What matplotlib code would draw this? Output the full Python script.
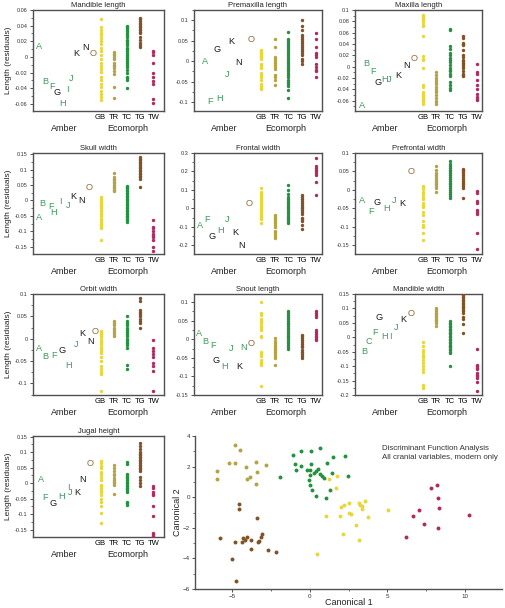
import matplotlib
matplotlib.use('Agg')
from matplotlib import pyplot as plt
from matplotlib.ticker import MultipleLocator, AutoMinorLocator, FormatStrFormatter
import numpy as np

plt.rcParams['font.family'] = ['Liberation Sans', 'DejaVu Sans']

eco_names = ['GB', 'TR', 'TC', 'TG', 'TW']
eco_colors = ['#e8d73a', '#b3a345', '#23913f', '#7f5327', '#b02a5e']

# amber fossils: (letter, position along x, residual)
mandl_amber = [('A', -3.67, 0.014), ('B', -3.22, -0.031), ('F', -2.67, -0.038), ('G', -2.27, -0.045),
               ('H', -1.87, -0.059), ('I', -1.49, -0.042), ('J', -1.24, -0.027), ('K', -0.82, 0.005),
               ('N', -0.17, 0.012), ('O', 0.46, 0.004)]
mandl_gb = [0.048, 0.038, 0.035, 0.031, 0.028, 0.024, 0.02, 0.016, 0.012, 0.008, 0.003, -0.003, -0.008,
            -0.011, -0.015, -0.019, -0.026, -0.03, -0.034, -0.038, -0.043, -0.047, -0.051, -0.055]
mandl_tr = [0.006, 0.004, 0.002, 0, -0.002, -0.008, -0.01, -0.012, -0.014, -0.018, -0.022, -0.038, -0.053]
mandl_tc = [0.04, 0.038, 0.036, 0.033, 0.03, 0.028, 0.025, 0.022, 0.02, 0.018, 0.015, 0.012, 0.01, 0.008,
            0.005, 0.002, 0, -0.002, -0.005, -0.008, -0.01, -0.013, -0.016, -0.02, -0.025, -0.027, -0.03, -0.039]
mandl_tg = [0.05, 0.048, 0.046, 0.044, 0.042, 0.04, 0.038, 0.036, 0.034, 0.032, 0.03, 0.025, 0.022, 0.018,
            0.015, 0.013]
mandl_tw = [0.008, 0.006, 0.003, -0.008, -0.02, -0.026, -0.031, -0.035, -0.054, -0.059]

premx_amber = [('A', -3.10, -0.001), ('F', -2.73, -0.098), ('G', -2.20, 0.028), ('H', -2.0, -0.091),
               ('J', -1.46, -0.033), ('K', -1.15, 0.047), ('N', -0.61, -0.003), ('O', 0.27, 0.052)]
premx_gb = [0.026, 0.023, 0.02, 0.017, 0.013, 0.01, 0.005, -0.007, -0.012, -0.018, -0.028, -0.033, -0.038,
            -0.045, -0.055, -0.06, -0.065, -0.067]
premx_tr = [0.053, 0.035, 0.01, 0.005, 0, -0.005, -0.01, -0.015, -0.02, -0.035, -0.04, -0.045, -0.058]
premx_tc = [0.072, 0.055, 0.05, 0.045, 0.04, 0.035, 0.03, 0.025, 0.02, 0.015, 0.01, 0.005, 0, -0.005, -0.01,
            -0.015, -0.02, -0.025, -0.03, -0.035, -0.04, -0.045, -0.05, -0.055, -0.06, -0.07, -0.09]
premx_tg = [0.1, 0.085, 0.075, 0.065, 0.06, 0.055, 0.05, 0.045, 0.04, 0.035, 0.03, 0.025, 0.02, 0.015,
            0.005, 0, -0.008]
premx_tw = [0.068, 0.055, 0.035, 0.02, 0.015, 0.01, -0.008, -0.015, -0.022, -0.025, -0.04]

maxl_amber = [('A', -3.47, -0.069), ('B', -3.19, 0.0065), ('F', -2.70, -0.008), ('G', -2.33, -0.027),
              ('H', -1.85, -0.022), ('J', -1.50, -0.022), ('K', -0.80, -0.015), ('N', -0.23, 0.002),
              ('O', 0.34, 0.014)]
maxl_gb = [0.092, 0.09, 0.088, 0.085, 0.082, 0.078, 0.074, 0.072, 0.054, 0.019, 0.013, 0.012, -0.003, -0.032,
           -0.035, -0.045, -0.048, -0.05, -0.053, -0.056, -0.058, -0.06, -0.063, -0.066]
maxl_tr = [-0.01, -0.015, -0.02, -0.024, -0.027, -0.03, -0.035, -0.04, -0.042, -0.045, -0.05, -0.055, -0.06,
           -0.063, -0.065]
maxl_tc = [0.067, 0.065, 0.037, 0.032, 0.025, 0.02, 0.015, 0.012, 0.008, 0.003, -0.002, -0.005, -0.008,
           -0.012, -0.017, -0.027, -0.032, -0.038, -0.041]
maxl_tg = [0.054, 0.05, 0.042, 0.04, 0.038, 0.03, 0.02, 0.017, 0.012, 0.01, 0.007, 0.004, 0.002, -0.002,
           -0.008, -0.012, -0.015, -0.017]
maxl_tw = [0.005, -0.01, -0.013, -0.023, -0.033, -0.04, -0.048, -0.053, -0.056, -0.058]

skullw_amber = [('A', -3.67, -0.055), ('B', -3.40, -0.009), ('F', -2.76, -0.02), ('H', -2.54, -0.039),
                ('I', -2.04, -0.005), ('J', -1.47, -0.017), ('K', -1.04, 0.013), ('N', -0.42, 0.0),
                ('O', 0.13, 0.041)]
skullw_gb = [0.01, 0.005, 0, -0.005, -0.01, -0.015, -0.02, -0.025, -0.03, -0.035, -0.04, -0.045, -0.05, -0.06,
             -0.065, -0.07, -0.075, -0.08, -0.085, -0.09, -0.13]
skullw_tr = [0.09, 0.075, 0.07, 0.065, 0.06, 0.055, 0.05, 0.045, 0.04, 0.035, 0.03]
skullw_tc = [0.048, 0.045, 0.04, 0.035, 0.03, 0.025, 0.02, 0.015, 0.01, 0.005, 0, -0.005, -0.01, -0.015,
             -0.02, -0.025, -0.03, -0.035, -0.04, -0.045, -0.05, -0.055, -0.06, -0.065, -0.07]
skullw_tg = [0.14, 0.135, 0.13, 0.125, 0.12, 0.115, 0.11, 0.105, 0.1, 0.095, 0.09, 0.085, 0.08, 0.075, 0.07,
             0.042]
skullw_tw = [-0.065, -0.085, -0.09, -0.1, -0.11, -0.115, -0.12, -0.13, -0.15, -0.165]

frontw_amber = [('A', -3.44, -0.091), ('F', -2.95, -0.06), ('G', -2.56, -0.151), ('H', -1.98, -0.118),
                ('J', -1.44, -0.06), ('K', -0.90, -0.133), ('N', -0.41, -0.202), ('O', 0.12, 0.025)]
frontw_gb = [0.11, 0.09, 0.08, 0.07, 0.06, 0.05, 0.04, 0.03, 0.02, 0.01, 0, -0.01, -0.02, -0.03, -0.04,
             -0.05, -0.06, -0.08]
frontw_tr = [-0.035, -0.04, -0.05, -0.06, -0.07, -0.08, -0.09, -0.1, -0.12, -0.13, -0.14, -0.15, -0.16]
frontw_tc = [0.125, 0.1, 0.08, 0.06, 0.05, 0.04, 0.03, 0.02, 0.01, 0, -0.01, -0.02, -0.03, -0.04, -0.05,
             -0.06, -0.07, -0.08]
frontw_tg = [0.07, 0.06, 0.05, 0.04, 0.03, 0.02, 0.01, 0, -0.01, -0.02, -0.03, -0.05, -0.06, -0.07, -0.09,
             -0.11]
frontw_tw = [0.275, 0.23, 0.22, 0.21, 0.2, 0.19, 0.18, 0.145, 0.075]

prefw_amber = [('A', -3.52, -0.029), ('F', -2.85, -0.058), ('G', -2.40, -0.033), ('H', -1.71, -0.05),
               ('J', -1.12, -0.028), ('K', -0.48, -0.037), ('O', 0.14, 0.05)]
prefw_gb = [0.012, 0.008, 0.002, -0.005, -0.01, -0.018, -0.025, -0.035, -0.04, -0.045, -0.06, -0.068, -0.085,
            -0.095, -0.1, -0.115, -0.135]
prefw_tr = [0.065, 0.055, 0.045, 0.04, 0.035, 0.03, 0.025, 0.02, 0.015, 0.01, 0.005, -0.005]
prefw_tc = [0.078, 0.07, 0.065, 0.06, 0.055, 0.05, 0.045, 0.04, 0.035, 0.03, 0.025, 0.02, 0.015, 0.01, 0.005,
            0, -0.005, -0.01, -0.015, -0.022]
prefw_tg = [0.058, 0.055, 0.05, 0.045, 0.04, 0.035, 0.03, 0.025, 0.02, 0.015, 0.01, 0.005, -0.022]
prefw_tw = [-0.002, -0.008, -0.03, -0.035, -0.055, -0.06, -0.065, -0.115, -0.16]

orbw_amber = [('A', -3.67, -0.023), ('B', -3.19, -0.039), ('F', -2.54, -0.037), ('G', -1.94, -0.026),
              ('H', -1.44, -0.06), ('J', -0.87, -0.013), ('K', -0.37, 0.012), ('N', 0.21, -0.007),
              ('O', 0.58, 0.016)]
orbw_gb = [0.018, 0.012, 0.008, 0.003, -0.003, -0.008, -0.012, -0.018, -0.022, -0.028, -0.033, -0.04, -0.05,
           -0.06, -0.068, -0.075, -0.08, -0.118]
orbw_tr = [0.04, 0.035, 0.03, 0.025, 0.02, 0.015, 0.01, 0.007]
orbw_tc = [0.05, 0.04, 0.035, 0.03, 0.025, 0.02, 0.015, 0.01, 0.005, 0, -0.005, -0.01, -0.015, -0.02,
           -0.058, -0.068]
orbw_tg = [0.09, 0.085, 0.065, 0.06, 0.055, 0.05, 0.045, 0.04, 0.035, 0.025]
orbw_tw = [-0.003, -0.02, -0.028, -0.035, -0.04, -0.055, -0.06, -0.072, -0.116]

snout_amber = [('A', -3.54, 0.016), ('B', -3.08, -0.006), ('F', -2.49, -0.018), ('G', -2.25, -0.058),
               ('H', -1.64, -0.074), ('J', -1.20, -0.025), ('K', -0.61, -0.072), ('N', -0.27, -0.021),
               ('O', 0.27, -0.011)]
snout_gb = [0.1, 0.072, 0.065, 0.055, 0.05, 0.045, 0.035, 0.03, 0.025, 0.01, 0.005, -0.035, -0.04, -0.045,
            -0.055, -0.06, -0.065, -0.07, -0.125]
snout_tr = [0.003, -0.005, -0.01, -0.015, -0.02, -0.025, -0.03, -0.035, -0.04, -0.045, -0.05, -0.07]
snout_tc = [0.075, 0.07, 0.065, 0.06, 0.055, 0.05, 0.045, 0.04, 0.035, 0.03, 0.025, 0.02, 0.015, 0.01,
            0.005, 0, -0.005, -0.01, -0.015, -0.02, -0.025]
snout_tg = [0.012, 0.008, 0.003, -0.002, -0.008, -0.012, -0.018, -0.022, -0.028, -0.035, -0.04, -0.045, -0.05]
snout_tw = [0.075, 0.07, 0.065, 0.06, 0.025, 0.02, 0.015, 0.01, 0.005, 0, -0.003]

mandw_amber = [('B', -3.34, -0.05), ('C', -3.00, -0.015), ('F', -2.53, 0.016), ('G', -2.23, 0.069),
               ('H', -1.79, 0.002), ('I', -1.37, 0.002), ('J', -0.99, 0.035), ('K', -0.43, 0.06),
               ('O', 0.14, 0.083)]
mandw_gb = [-0.018, -0.03, -0.045, -0.05, -0.06, -0.065, -0.07, -0.08, -0.09, -0.1, -0.11, -0.12, -0.165,
            -0.17, -0.175]
mandw_tr = [0.1, 0.095, 0.09, 0.085, 0.08, 0.075, 0.07, 0.065, 0.06, 0.055, 0.05, 0.04]
mandw_tc = [0.058, 0.05, 0.045, 0.04, 0.035, 0.03, 0.025, 0.02, 0.015, 0.01, 0.005, 0, -0.005, -0.01, -0.015,
            -0.02, -0.025, -0.03, -0.035, -0.04, -0.045, -0.05, -0.055, -0.1]
mandw_tg = [0.148, 0.14, 0.135, 0.13, 0.125, 0.12, 0.115, 0.11, 0.105, 0.1, 0.095, 0.09, 0.085, 0.07, 0.065,
            0.045, 0.015]
mandw_tw = [-0.04, -0.095, -0.1, -0.105, -0.11, -0.125, -0.13, -0.135, -0.14, -0.155, -0.185]

jugal_amber = [('A', -3.54, 0.012), ('F', -3.19, -0.048), ('G', -2.62, -0.066), ('H', -1.99, -0.044),
               ('I', -1.47, -0.015), ('J', -1.27, -0.031), ('K', -0.79, -0.03), ('N', -0.34, 0.012),
               ('O', 0.18, 0.063)]
jugal_gb = [0.07, 0.065, 0.055, 0.048, 0.035, 0.03, 0.02, 0.01, -0.005, -0.01, -0.015, -0.02, -0.025, -0.03,
            -0.04, -0.05, -0.06, -0.075, -0.095, -0.13]
jugal_tr = [0.058, 0.05, 0.04, 0.03, 0.025, 0.015, 0.01, 0.005, 0, -0.005, -0.035]
jugal_tc = [0.067, 0.062, 0.028, 0.025, 0.02, 0.015, 0.01, 0.005, 0, -0.005, -0.01, -0.015, -0.02, -0.025,
            -0.03, -0.06, -0.065, -0.07]
jugal_tg = [0.13, 0.12, 0.11, 0.1, 0.095, 0.09, 0.085, 0.08, 0.075, 0.07, 0.065, 0.06, 0.055, 0.05, 0.045,
            0.04, 0.02, 0.01, 0, -0.01]
jugal_tw = [-0.01, -0.015, -0.03, -0.035, -0.04, -0.075, -0.107, -0.16, -0.165, -0.17]

# discriminant function analysis, canonical scores
dfa_tr_x = [-4.84, -4.52, -5.21, -4.84, -6.0, -5.96, -4.11, -3.49, -2.82, -3.42, -3.83, -4.02, -3.44]
dfa_tr_y = [3.39, 3.07, 2.26, 2.26, 1.74, 1.17, 1.96, 2.3, 2.09, 1.67, 1.35, 1.2, 0.85]
dfa_tg_x = [-4.56, -4.56, -3.4, -5.77, -4.8, -4.35, -4.3, -4.18, -4.02, -3.81, -3.81, -3.34, -3.27, -3.16,
            -3.06, -2.67, -2.15, -5.04, -4.74]
dfa_tg_y = [-0.46, -0.78, -1.33, -2.65, -2.91, -2.96, -2.67, -2.83, -2.61, -2.78, -3.41, -2.96, -2.89, -2.61,
            -2.41, -3.43, -3.59, -4.04, -5.48]
dfa_tc_x = [-1.08, -0.58, 0.11, 0.65, -0.93, -0.54, -0.9, -0.15, 0.04, 0.11, 0.26, 0.0, 0.43, 0.56, 0.69,
            0.77, 0.9, 1.14, 1.51, 1.44, 2.26, 2.45, -1.89, -0.06, 0.0, 0.15, 0.43, 1.03, 1.29]
dfa_tc_y = [2.74, 3.04, 3.04, 3.22, 2.2, 2.04, 1.78, 1.78, 1.78, 2.15, 1.57, 1.46, 1.74, 1.87, 1.52, 1.39,
            1.26, 2.26, 2.61, 1.57, 2.7, 1.37, 1.3, 1.13, 0.83, 0.48, 0.09, -0.07, 0.48]
dfa_gb_x = [1.25, 1.76, 1.72, 2.02, 2.22, 2.52, 2.52, 2.63, 3.16, 3.27, 3.36, 3.34, 3.57, 3.75, 3.01, 2.15,
            3.19, 1.03, 1.98, 5.06, 0.45]
dfa_gb_y = [1.17, 1.39, 0.57, -0.65, -0.48, -0.41, -1.04, -1.09, -0.35, -0.48, -0.57, -0.78, -0.22, -1.3,
            -1.8, -2.41, -2.78, -1.26, -1.24, -0.83, -3.7]
dfa_tw_x = [8.24, 7.81, 8.29, 8.31, 7.06, 6.63, 7.38, 8.27, 6.18, 10.27]
dfa_tw_y = [0.8, 0.63, -0.02, -0.72, -0.83, -1.22, -1.74, -2.04, -2.57, -1.15]

panels = [
    ('Mandible length', mandl_amber, [mandl_gb, mandl_tr, mandl_tc, mandl_tg, mandl_tw], 0.02, (-0.069, 0.06), 'GKN'),
    ('Premaxilla length', premx_amber, [premx_gb, premx_tr, premx_tc, premx_tg, premx_tw], 0.05, (-0.122, 0.125), 'GKN'),
    ('Maxilla length', maxl_amber, [maxl_gb, maxl_tr, maxl_tc, maxl_tg, maxl_tw], 0.02, (-0.078, 0.1), 'GKN'),
    ('Skull width', skullw_amber, [skullw_gb, skullw_tr, skullw_tc, skullw_tg, skullw_tw], 0.05, (-0.174, 0.154), 'GKN'),
    ('Frontal width', frontw_amber, [frontw_gb, frontw_tr, frontw_tc, frontw_tg, frontw_tw], 0.1, (-0.247, 0.3), 'GKN'),
    ('Prefrontal width', prefw_amber, [prefw_gb, prefw_tr, prefw_tc, prefw_tg, prefw_tw], 0.05, (-0.173, 0.1), 'GKN'),
    ('Orbit width', orbw_amber, [orbw_gb, orbw_tr, orbw_tc, orbw_tg, orbw_tw], 0.05, (-0.126, 0.1), 'GKN'),
    ('Snout length', snout_amber, [snout_gb, snout_tr, snout_tc, snout_tg, snout_tw], 0.05, (-0.15, 0.122), 'GK'),
    ('Mandible width', mandw_amber, [mandw_gb, mandw_tr, mandw_tc, mandw_tg, mandw_tw], 0.05, (-0.2, 0.15), 'GK'),
    ('Jugal height', jugal_amber, [jugal_gb, jugal_tr, jugal_tc, jugal_tg, jugal_tw], 0.05, (-0.174, 0.152), 'GKN'),
]

W, H = 506, 608
fig = plt.figure(figsize=(W / 100, H / 100), dpi=100)

col_left = [33, 194, 355]
col_width = [131, 128, 127]
col_xlim = [(-4.12, 5.81), (-3.88, 5.44), (-4.01, 5.38)]
row_top = [10, 153, 294, 436]
ph = 101
frame_col = '#505050'

for i, (title, amber, eco, step, ylim, blacks) in enumerate(panels):
    r, c = divmod(i, 3)
    ax = fig.add_axes([col_left[c] / W, 1 - (row_top[r] + ph) / H, col_width[c] / W, ph / H])
    for k, vals in enumerate(eco):
        ax.scatter(np.full(len(vals), k + 1), vals, s=6, color=eco_colors[k], linewidths=0, zorder=3)
    for letter, lx, ly in amber:
        if letter == 'O':
            col = '#9a6a3c'
        elif letter in blacks:
            col = '#1a1a1a'
        else:
            col = '#3d9b5c'
        ax.text(lx, ly, letter, color=col, fontsize=6.6, ha='center', va='center')
    ax.set_xlim(col_xlim[c])
    ax.set_ylim(ylim)
    ax.set_xticks(range(1, 6))
    ax.set_xticklabels(eco_names)
    ax.yaxis.set_major_locator(MultipleLocator(step))
    ax.yaxis.set_minor_locator(AutoMinorLocator(2))
    ax.yaxis.set_major_formatter(FormatStrFormatter('%g'))
    ax.tick_params(axis='x', length=0, pad=2.5, labelsize=5.5)
    ax.tick_params(axis='y', which='major', length=2.5, width=0.6, pad=1.5, labelsize=4, colors='#333333')
    ax.tick_params(axis='y', which='minor', length=1.5, width=0.5, colors='#333333')
    for sp in ax.spines.values():
        sp.set_color(frame_col)
        sp.set_linewidth(1.0)
    ax.set_title(title, fontsize=5.5, pad=2, color='#222222')
    ax.text(0.235, -0.17, 'Amber', transform=ax.transAxes, ha='center', va='center', fontsize=6.5, color='#222222')
    ax.text(0.72, -0.17, 'Ecomorph', transform=ax.transAxes, ha='center', va='center', fontsize=6.5, color='#222222')
    if c == 0:
        ax.set_ylabel('Length (residuals)', fontsize=6, labelpad=2, color='#222222')

# scatter of canonical scores
ax = fig.add_axes([195 / W, 1 - 589 / H, 307 / W, 153 / H])
dfa = [(dfa_gb_x, dfa_gb_y), (dfa_tr_x, dfa_tr_y), (dfa_tc_x, dfa_tc_y), (dfa_tg_x, dfa_tg_y), (dfa_tw_x, dfa_tw_y)]
for k, (xs, ys) in enumerate(dfa):
    ax.scatter(xs, ys, s=8, color=eco_colors[k], linewidths=0, zorder=3)
ax.set_xlim(-7.4, 12.4)
ax.set_ylim(-6, 4)
ax.xaxis.set_major_locator(MultipleLocator(5))
ax.xaxis.set_minor_locator(AutoMinorLocator(2))
ax.yaxis.set_major_locator(MultipleLocator(2))
ax.yaxis.set_minor_locator(AutoMinorLocator(2))
ax.tick_params(which='major', length=2.5, width=0.6, pad=1, labelsize=4.5, colors='#333333')
ax.tick_params(which='minor', length=1.5, width=0.5, colors='#333333')
ax.spines['top'].set_visible(False)
ax.spines['right'].set_visible(False)
for s in ['left', 'bottom']:
    ax.spines[s].set_color(frame_col)
    ax.spines[s].set_linewidth(1.0)
ax.set_xlabel('Canonical 1', fontsize=6.5, color='#222222')
ax.xaxis.set_label_coords(0.5, -0.06)
ax.set_ylabel('Canonical 2', fontsize=6.5, labelpad=1, color='#222222')
ax.text(0.61, 0.94, 'Discriminant Function Analysis\nAll cranial variables, modern only',
        transform=ax.transAxes, ha='left', va='top', fontsize=5.7, linespacing=1.3, color='#333333')

fig.savefig('out.png', dpi=100)
